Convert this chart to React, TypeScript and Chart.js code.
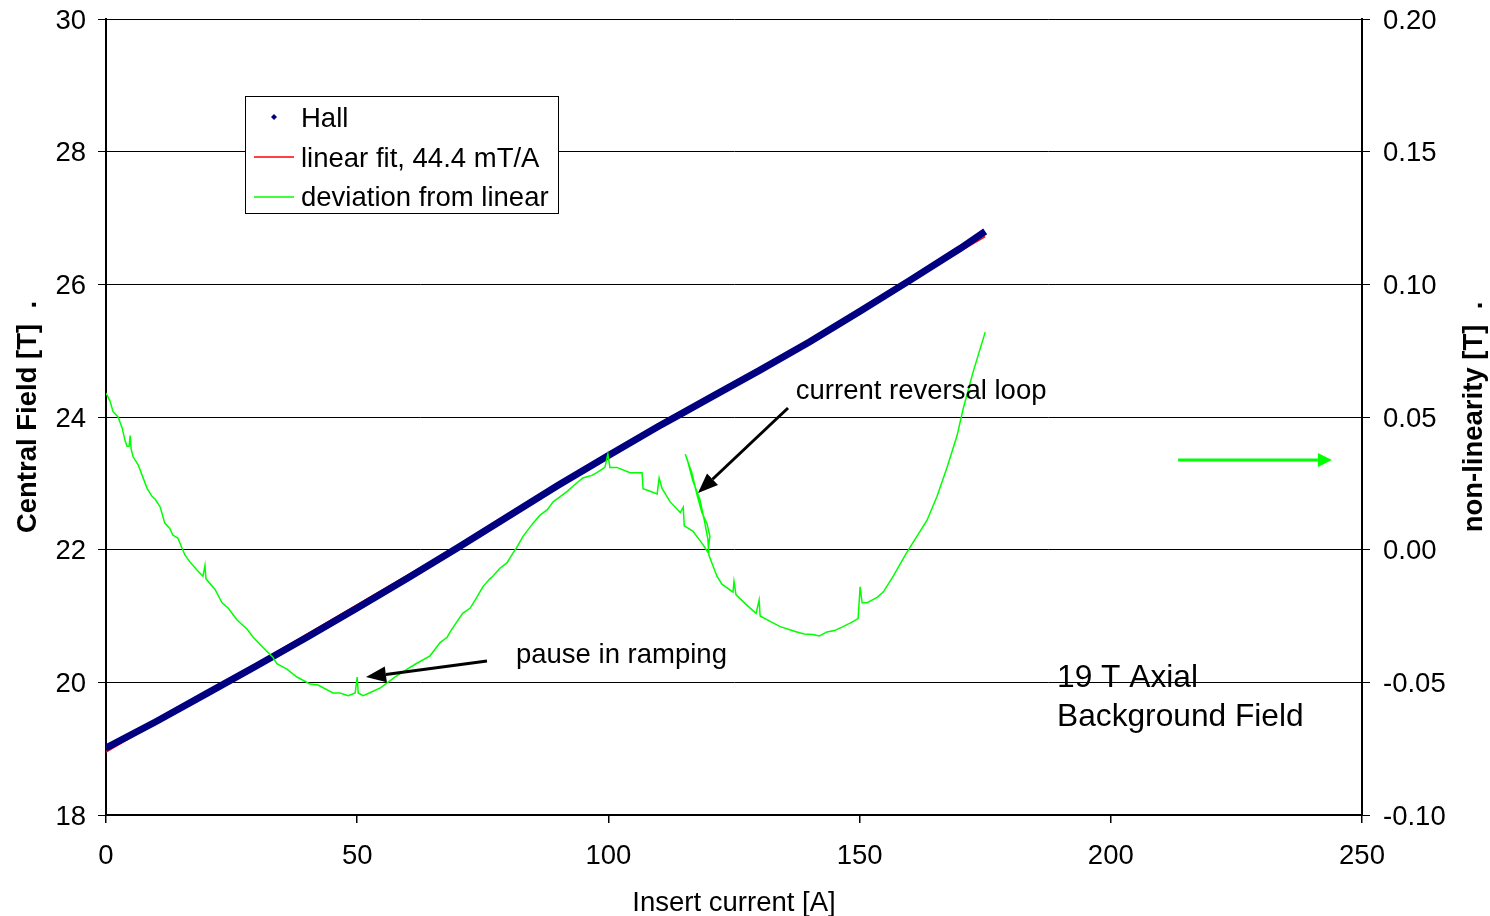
import React, { useEffect, useRef } from 'react';
import { Chart, registerables } from 'chart.js';

Chart.register(...registerables);

// ---------- data ----------
const currentTicks = [0, 50, 100, 150, 200, 250];
const fieldTicks = [18, 20, 22, 24, 26, 28, 30];
const nonlinTicks = [-0.1, -0.05, 0.0, 0.05, 0.1, 0.15, 0.2];

const hallCurrent = [0, 10, 20, 30, 40, 50, 60, 70, 80, 90, 100, 110, 115, 120, 130, 140, 150, 160, 170, 175];
const hallField = [19.01, 19.41, 19.83, 20.25, 20.68, 21.12, 21.57, 22.03, 22.5, 22.97, 23.42, 23.86, 24.07, 24.28, 24.7, 25.13, 25.59, 26.06, 26.54, 26.8];

const fitCurrent = [0, 175];
const fitField = [18.95, 26.72];

const devCurrent = [
  0.0, 0.8, 1.4, 2.4, 3.2, 3.8, 4.2, 4.6, 4.8, 5.0, 5.4, 6.4, 7.2, 8.2, 9.2, 9.8, 10.8, 11.7, 12.7, 13.3,
  14.3, 15.7, 16.7, 18.1, 19.3, 19.7, 19.9, 21.7, 23.1, 24.3, 26.1, 28.1, 29.3, 31.3, 33.2, 34.0, 36.0,
  38.0, 40.6, 42.2, 45.2, 46.6, 48.2, 49.6, 50.0, 50.2, 51.2, 52.4, 54.7, 57.5, 58.7, 61.7, 64.5, 66.5,
  67.9, 68.5, 69.9, 71.0, 72.5, 73.8, 75.0, 76.4, 77.0, 78.4, 79.8, 81.0, 81.8, 83.0, 83.8, 85.0, 86.4,
  87.8, 89.0, 90.4, 91.8, 93.0, 94.9, 96.7, 97.7, 99.3, 99.9, 100.3, 101.7, 104.3, 106.7, 106.9, 108.3,
  109.7, 110.1, 110.7, 112.3, 114.3, 114.9, 115.1, 116.8, 118.8, 119.8, 120.2, 119.6, 118.6, 117.6, 116.6,
  115.3, 115.7, 116.8, 118.2, 119.2, 119.8, 120.0, 120.6, 121.6, 122.6, 124.8, 125.0, 125.4, 127.6, 129.4,
  130.0, 130.2, 132.2, 134.2, 136.1, 137.5, 139.0, 140.7, 142.0, 143.5, 145.0, 146.7, 148.3, 149.7, 150.1,
  150.5, 151.5, 153.5, 154.7, 156.7, 159.4, 161.4, 163.4, 165.4, 167.4, 169.4, 170.6, 172.6, 175.0,
];
const devValue = [
  0.059, 0.056, 0.052, 0.05, 0.046, 0.041, 0.039, 0.039, 0.043, 0.038, 0.035, 0.032, 0.028, 0.023, 0.02, 0.019, 0.016, 0.01, 0.008, 0.0055,
  0.0044, -0.002, -0.0046, -0.0077, -0.01, -0.006, -0.011, -0.015, -0.02, -0.022, -0.0265, -0.03, -0.033, -0.037, -0.0405, -0.043, -0.045,
  -0.048, -0.0506, -0.051, -0.054, -0.054, -0.055, -0.054, -0.048, -0.054, -0.055, -0.054, -0.052, -0.048, -0.0465, -0.043, -0.04, -0.035,
  -0.033, -0.031, -0.027, -0.024, -0.022, -0.018, -0.014, -0.011, -0.01, -0.007, -0.005, -0.0013, 0.001, 0.005, 0.007, 0.01, 0.013,
  0.015, 0.018, 0.02, 0.022, 0.024, 0.027, 0.028, 0.029, 0.031, 0.036, 0.031, 0.031, 0.029, 0.029, 0.023, 0.022,
  0.021, 0.027, 0.023, 0.018, 0.014, 0.016, 0.009, 0.007, 0.002, -0.001, 0.005, 0.01, 0.014, 0.021, 0.029,
  0.036, 0.034, 0.026, 0.019, 0.01, 0.004, -0.002, -0.005, -0.01, -0.013, -0.016, -0.012, -0.017, -0.021, -0.024,
  -0.019, -0.025, -0.027, -0.029, -0.0302, -0.031, -0.0318, -0.032, -0.0325, -0.031, -0.0305, -0.029, -0.0275, -0.026, -0.014,
  -0.02, -0.02, -0.018, -0.016, -0.01, -0.001, 0.005, 0.011, 0.02, 0.031, 0.043, 0.053, 0.067, 0.082,
];

const legendLabels = ['Hall', 'linear fit, 44.4 mT/A', 'deviation from linear'];
const xTitle = 'Insert current [A]';
const yTitle = 'Central Field [T]  .';
const y1Title = 'non-linearity [T]  .';
const noteReversal = 'current reversal loop';
const notePause = 'pause in ramping';
const noteField = ['19 T Axial', 'Background Field'];

// ---------- styles ----------
const FONT = '"Liberation Sans", Arial, Helvetica, sans-serif';
const NAVY = '#000080';
const RED = '#FF0000';
const GREEN = '#00FF00';

function drawArrow(ctx: CanvasRenderingContext2D, x1: number, y1: number, x2: number, y2: number, color: string, width: number, headLen: number, headHalf: number) {
  const ang = Math.atan2(y2 - y1, x2 - x1);
  const bx = x2 - headLen * Math.cos(ang);
  const by = y2 - headLen * Math.sin(ang);
  ctx.save();
  ctx.strokeStyle = color;
  ctx.fillStyle = color;
  ctx.lineWidth = width;
  ctx.beginPath();
  ctx.moveTo(x1, y1);
  ctx.lineTo(bx, by);
  ctx.stroke();
  ctx.beginPath();
  ctx.moveTo(x2, y2);
  ctx.lineTo(bx + headHalf * Math.sin(ang), by - headHalf * Math.cos(ang));
  ctx.lineTo(bx - headHalf * Math.sin(ang), by + headHalf * Math.cos(ang));
  ctx.closePath();
  ctx.fill();
  ctx.restore();
}

const overlayPlugin = {
  id: 'overlay',
  afterDatasetsDraw(chart: any) {
    const ctx: CanvasRenderingContext2D = chart.ctx;
    const xs = chart.scales.x;
    const ys = chart.scales.y;
    const px = (v: number) => xs.getPixelForValue(v);
    const py = (v: number) => ys.getPixelForValue(v);

    drawArrow(ctx, px(135.75), py(24.136), px(117.83), py(22.855), '#000', 3, 20, 8);
    drawArrow(ctx, px(75.84), py(20.32), px(51.75), py(20.08), '#000', 3, 20, 8);
    drawArrow(ctx, px(213.4), py(23.35), px(244.0), py(23.35), GREEN, 3, 14, 7);

    ctx.save();
    ctx.fillStyle = '#000';
    ctx.textBaseline = 'middle';
    ctx.textAlign = 'left';
    ctx.font = `27.5px ${FONT}`;
    ctx.fillText(noteReversal, px(137.3), py(24.42) + 2);
    ctx.fillText(notePause, px(81.6), py(20.43) + 2);
    ctx.font = `31.7px ${FONT}`;
    ctx.fillText(noteField[0], px(189.3), py(20.1) + 3);
    ctx.fillText(noteField[1], px(189.3), py(19.52) + 3);
    ctx.restore();
  },
  afterDraw(chart: any) {
    const ctx: CanvasRenderingContext2D = chart.ctx;
    const area = chart.chartArea;
    ctx.save();
    // legend box
    ctx.fillStyle = '#fff';
    ctx.fillRect(245.5, 96.5, 313, 117);
    ctx.strokeStyle = '#000';
    ctx.lineWidth = 1;
    ctx.strokeRect(245.5, 96.5, 313, 117);
    ctx.fillStyle = NAVY;
    ctx.beginPath();
    ctx.moveTo(274, 114);
    ctx.lineTo(277, 117);
    ctx.lineTo(274, 120);
    ctx.lineTo(271, 117);
    ctx.closePath();
    ctx.fill();
    ctx.lineWidth = 1.5;
    ctx.strokeStyle = RED;
    ctx.beginPath();
    ctx.moveTo(254, 157);
    ctx.lineTo(294, 157);
    ctx.stroke();
    ctx.strokeStyle = GREEN;
    ctx.beginPath();
    ctx.moveTo(254, 197);
    ctx.lineTo(294, 197);
    ctx.stroke();
    ctx.fillStyle = '#000';
    ctx.font = `27.5px ${FONT}`;
    ctx.textBaseline = 'middle';
    ctx.textAlign = 'left';
    ctx.fillText(legendLabels[0], 301, 119);
    ctx.fillText(legendLabels[1], 301, 159);
    ctx.fillText(legendLabels[2], 301, 198);

    // axis titles
    const cy = (area.top + area.bottom) / 2;
    ctx.textAlign = 'center';
    ctx.fillText(xTitle, (area.left + area.right) / 2, 903);
    ctx.font = `bold 27.5px ${FONT}`;
    ctx.save();
    ctx.translate(28, cy);
    ctx.rotate(-Math.PI / 2);
    ctx.fillText(yTitle, 0, 0);
    ctx.restore();
    ctx.save();
    ctx.translate(1474, cy);
    ctx.rotate(-Math.PI / 2);
    ctx.fillText(y1Title, 0, 0);
    ctx.restore();
    ctx.restore();
  },
};

export default function App() {
  const ref = useRef<HTMLCanvasElement | null>(null);

  useEffect(() => {
    document.body.style.margin = '0';
    if (!ref.current) return;
    const tickFont = { family: FONT, size: 27.5 };
    const chart = new Chart(ref.current, {
      type: 'line',
      data: {
        datasets: [
          {
            label: legendLabels[0],
            data: hallCurrent.map((x, i) => ({ x, y: hallField[i] })),
            borderColor: NAVY,
            backgroundColor: NAVY,
            borderWidth: 7,
            pointRadius: 0,
            tension: 0,
            yAxisID: 'y',
            order: 1,
          },
          {
            label: legendLabels[1],
            data: fitCurrent.map((x, i) => ({ x, y: fitField[i] })),
            borderColor: RED,
            borderWidth: 1.5,
            pointRadius: 0,
            yAxisID: 'y',
            order: 2,
          },
          {
            label: legendLabels[2],
            data: devCurrent.map((x, i) => ({ x, y: devValue[i] })),
            borderColor: GREEN,
            borderWidth: 1.5,
            pointRadius: 0,
            tension: 0,
            yAxisID: 'y1',
            order: 0,
          },
        ],
      },
      options: {
        animation: false,
        responsive: false,
        layout: { padding: { top: 19, left: 0, right: 0, bottom: 0 } },
        plugins: { legend: { display: false }, tooltip: { enabled: false } },
        scales: {
          x: {
            type: 'linear',
            min: 0,
            max: 250,
            afterBuildTicks: (s: any) => {
              s.ticks = currentTicks.map((v) => ({ value: v }));
            },
            afterFit: (s: any) => {
              s.height = 101;
              s.paddingLeft = 0;
              s.paddingRight = 0;
            },
            grid: { drawOnChartArea: false, drawTicks: true, tickLength: 8, color: '#000', lineWidth: 1.5 },
            border: { display: true, color: '#000', width: 2 },
            ticks: { font: tickFont, color: '#000', padding: 17, maxRotation: 0, autoSkip: false },
          },
          y: {
            type: 'linear',
            position: 'left',
            min: 18,
            max: 30,
            afterBuildTicks: (s: any) => {
              s.ticks = fieldTicks.map((v) => ({ value: v }));
            },
            afterFit: (s: any) => {
              s.width = 106;
              s.paddingTop = 0;
              s.paddingBottom = 0;
            },
            grid: { color: '#000', lineWidth: 1, drawTicks: true, tickLength: 8 },
            border: { display: true, color: '#000', width: 2 },
            ticks: { font: tickFont, color: '#000', padding: 12, autoSkip: false, labelOffset: 2 },
          },
          y1: {
            type: 'linear',
            position: 'right',
            min: -0.1,
            max: 0.2,
            afterBuildTicks: (s: any) => {
              s.ticks = nonlinTicks.map((v) => ({ value: v }));
            },
            afterFit: (s: any) => {
              s.width = 128;
              s.paddingTop = 0;
              s.paddingBottom = 0;
            },
            grid: { drawOnChartArea: false, drawTicks: true, tickLength: 8, color: '#000', lineWidth: 1 },
            border: { display: true, color: '#000', width: 2 },
            ticks: {
              font: tickFont,
              color: '#000',
              padding: 13,
              autoSkip: false,
              labelOffset: 2,
              callback: (v: any) => Number(v).toFixed(2),
            },
          },
        },
      },
      plugins: [overlayPlugin],
    });
    return () => chart.destroy();
  }, []);

  return (
    <div style={{ width: 1490, height: 916, position: 'relative' }}>
      <canvas ref={ref} width={1490} height={916} style={{ display: 'block', width: 1490, height: 916 }} />
    </div>
  );
}
